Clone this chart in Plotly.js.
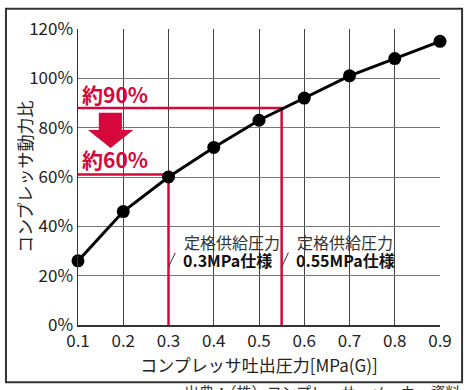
<!DOCTYPE html>
<html>
<head>
<meta charset="utf-8">
<script src="https://cdn.plot.ly/plotly-3.0.1.min.js"></script>
<style>html,body{margin:0;padding:0;background:#fff;}#chart{width:474px;height:390px;}</style>
</head>
<body>
<div id="chart"></div>
<script>
const pressures = [0.1, 0.2, 0.3, 0.4, 0.5, 0.6, 0.7, 0.8, 0.9];
const powerRatio = [26, 46, 60, 72, 83, 92, 101, 108, 115];
const ratedPressures = [0.3, 0.55];
const ratedRatios = [61, 88];
const ratedLabels = ['0.3MPa仕様', '0.55MPa仕様'];
const ratioLabels = ['約60%', '約90%'];
const xTicks = [0.1, 0.2, 0.3, 0.4, 0.5, 0.6, 0.7, 0.8, 0.9];
const yTicks = [0, 20, 40, 60, 80, 100, 120];

const FONT = '"Noto Sans CJK JP", "Noto Sans", sans-serif';
const RED = '#d6083b';

const traces = [];
ratedPressures.forEach((p, i) => {
  traces.push({
    x: [0.1, p, p], y: [ratedRatios[i], ratedRatios[i], 0],
    mode: 'lines', line: {color: RED, width: 2.5}, hoverinfo: 'skip',
    cliponaxis: false, showlegend: false
  });
});
traces.push({
  x: pressures, y: powerRatio, mode: 'lines+markers',
  line: {color: '#000', width: 3},
  marker: {color: '#000', size: 13},
  cliponaxis: false, showlegend: false
});

const annotations = [];
ratedPressures.forEach((p, i) => {
  annotations.push({x: p + 0.03, y: 33.6, xref: 'x', yref: 'y', xanchor: 'left', yanchor: 'middle',
    text: '定格供給圧力', showarrow: false, font: {family: FONT, size: 16, color: '#333'}});
  annotations.push({x: p + 0.028, y: 26.3, xref: 'x', yref: 'y', xanchor: 'left', yanchor: 'middle',
    text: '<b>' + ratedLabels[i] + '</b>', showarrow: false, font: {family: FONT, size: 16, color: '#111'}});
});
annotations.push({x: 0.105, y: 93.5, xref: 'x', yref: 'y', xanchor: 'left', yanchor: 'middle',
  text: '<b>' + ratioLabels[1] + '</b>', showarrow: false, font: {family: FONT, size: 21, color: RED}});
annotations.push({x: 0.105, y: 67.5, xref: 'x', yref: 'y', xanchor: 'left', yanchor: 'middle',
  text: '<b>' + ratioLabels[0] + '</b>', showarrow: false, font: {family: FONT, size: 21, color: RED}});
annotations.push({x: -0.149, y: 0.5, xref: 'paper', yref: 'paper', xanchor: 'center', yanchor: 'middle',
  textangle: -90, text: 'コンプレッサ動力比', showarrow: false, font: {family: FONT, size: 17, color: '#222'}});
annotations.push({x: 1.06, y: -0.225, xref: 'paper', yref: 'paper', xanchor: 'right', yanchor: 'middle',
  text: '出典：（株）コンプレッサーメーカー資料', showarrow: false, font: {family: FONT, size: 15, color: '#333'}});

const shapes = [
  {type: 'rect', xref: 'paper', yref: 'paper', x0: -0.199, x1: 1.061, y0: -0.193, y1: 1.068,
   line: {color: '#333', width: 2}, layer: 'below'},
  {type: 'path', xref: 'x', yref: 'y',
   path: 'M0.146,86 L0.197,86 L0.197,79.1 L0.222,79.1 L0.172,71.8 L0.122,79.1 L0.146,79.1 Z',
   fillcolor: RED, line: {width: 0}},
  {type: 'line', xref: 'x', yref: 'y', x0: 0.3, y0: 23.5, x1: 0.315, y1: 29.3, line: {color: '#333', width: 1}},
  {type: 'line', xref: 'x', yref: 'y', x0: 0.55, y0: 23.5, x1: 0.565, y1: 29.3, line: {color: '#333', width: 1}}
];

const layout = {
  width: 474, height: 390,
  margin: {l: 78, r: 34, t: 29, b: 65},
  paper_bgcolor: '#fff', plot_bgcolor: '#fff',
  font: {family: FONT, color: '#222'},
  xaxis: {
    range: [0.1, 0.9], tickvals: xTicks, ticktext: xTicks.map(v => v.toFixed(1)),
    showgrid: true, gridcolor: '#444', gridwidth: 1, zeroline: false,
    showline: true, linecolor: '#333', linewidth: 1.5, ticks: '',
    tickfont: {family: FONT, size: 17, color: '#222'},
    title: {text: 'コンプレッサ吐出圧力[MPa(G)]', font: {family: FONT, size: 17, color: '#222'}, standoff: 5},
    fixedrange: true
  },
  yaxis: {
    range: [0, 120], tickvals: yTicks, ticktext: yTicks.map(v => v + '%'),
    showgrid: true, gridcolor: '#777', gridwidth: 1, zeroline: false,
    showline: true, linecolor: '#333', linewidth: 1.5, ticks: '',
    tickfont: {family: FONT, size: 17, color: '#222'},
    fixedrange: true
  },
  annotations: annotations,
  shapes: shapes,
  showlegend: false
};

Plotly.newPlot('chart', traces, layout, {displayModeBar: false, staticPlot: true});
</script>
</body>
</html>
